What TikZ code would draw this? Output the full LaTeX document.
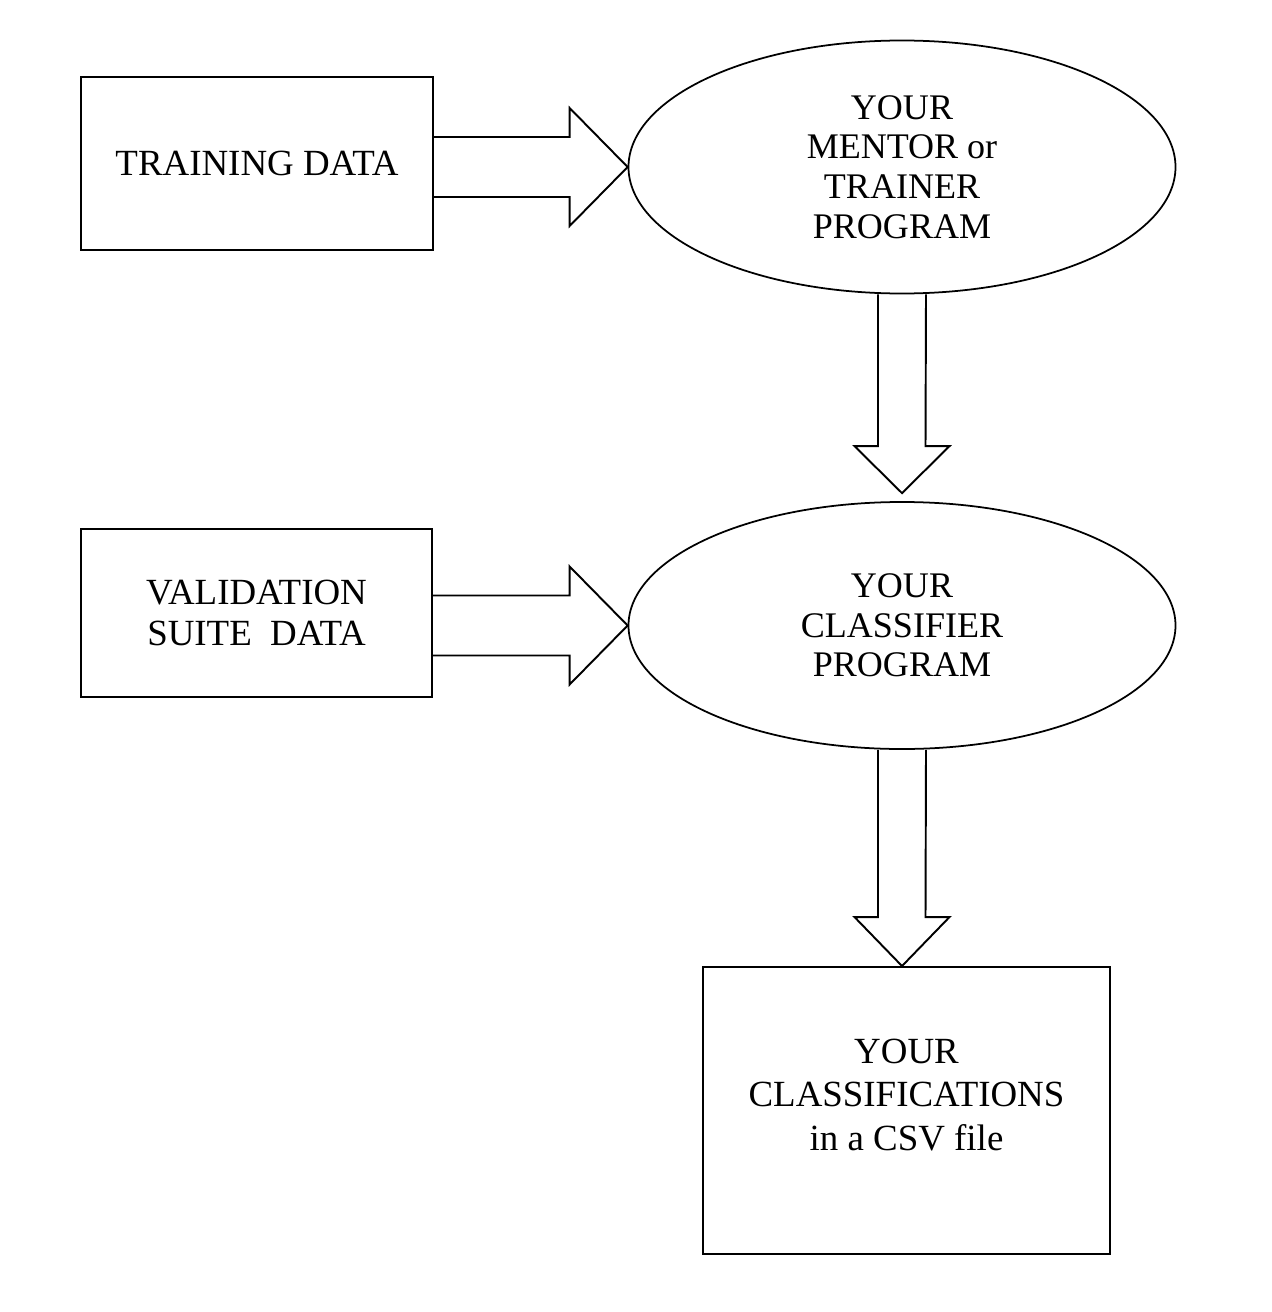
\documentclass[tikz,border=0pt]{standalone}
\usepackage{fontspec}
\setmainfont{Liberation Serif}
\usepackage{tikz}
\usetikzlibrary{calc,shapes.geometric}
\tikzset{
  databox/.style={draw,line width=1.1pt,inner sep=0pt,align=center,
    font=\fontsize{21}{23.3}\selectfont},
  progell/.style={draw,ellipse,line width=1pt,inner sep=0pt,align=center,
    minimum width=10.94cm,minimum height=5.06cm,font=\fontsize{20.5}{22.5}\selectfont},
  resultbox/.style={databox,minimum width=8.14cm,minimum height=5.74cm,
    text depth=18pt,font=\fontsize{21}{24.8}\selectfont},
  blockflow/.style={draw,line width=1.1pt,line join=miter}
}

\begin{document}
\begin{tikzpicture}
  \useasboundingbox (0,0) rectangle (25.44,-26.24);
  % inputs and programs
  \node[databox,minimum width=7.04cm,minimum height=3.46cm] (train) at (5.14,-3.27) {TRAINING DATA};
  \node[progell] (mentor) at (18.04,-3.34) {YOUR\\MENTOR or\\TRAINER\\PROGRAM};
  \node[databox,minimum width=7.02cm,minimum height=3.36cm] (valid) at (5.13,-12.26) {VALIDATION\\SUITE\ \ DATA};
  \node[progell,minimum height=4.94cm] (classif) at (18.04,-12.51) {YOUR\\CLASSIFIER\\PROGRAM};
  \node[resultbox] (result) at (18.13,-22.21) {YOUR\\CLASSIFICATIONS\\in a CSV file};
  % block arrows
  \draw[blockflow] ($(train.east |- mentor.west)+(0,0.6)$) -- ($(mentor.west)+(-1.16,0.6)$)
    -- ++(0,0.58) -- (mentor.west) -- ++(-1.16,-1.18) -- ++(0,0.58)
    -- ($(train.east |- mentor.west)+(0,-0.6)$);
  \draw[blockflow] ($(valid.east |- classif.west)+(0,0.6)$) -- ($(classif.west)+(-1.16,0.6)$)
    -- ++(0,0.58) -- (classif.west) -- ++(-1.16,-1.18) -- ++(0,0.58)
    -- ($(valid.east |- classif.west)+(0,-0.6)$);
  \draw[blockflow] ($(mentor.south)+(-0.48,0)$) -- ($(classif.north)+(-0.48,1.10)$)
    -- ++(-0.47,0) -- ($(classif.north)+(0,0.16)$) -- ++(0.95,0.94) -- ++(-0.48,0)
    -- ($(mentor.south)+(0.48,0)$);
  \draw[blockflow] ($(classif.south)+(-0.48,0)$) -- ($(classif.south |- result.north)+(-0.48,0.98)$)
    -- ++(-0.47,0) -- (classif.south |- result.north) -- ++(0.95,0.98) -- ++(-0.48,0)
    -- ($(classif.south)+(0.48,0)$);
\end{tikzpicture}
\end{document}
